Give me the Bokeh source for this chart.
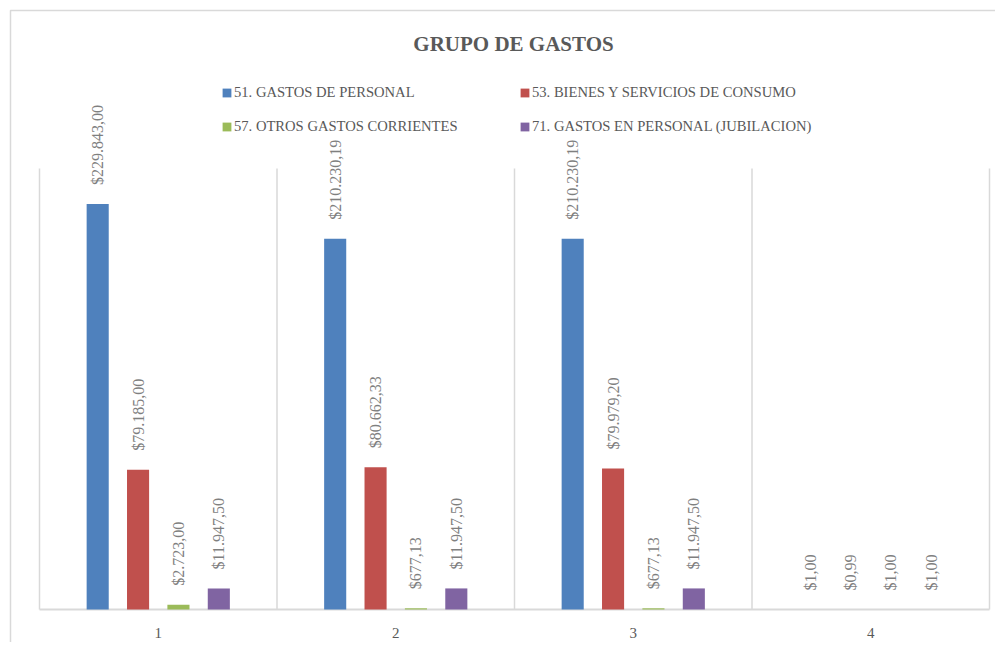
from bokeh.plotting import figure
from bokeh.models import (ColumnDataSource, Range1d, LabelSet, Label, Legend, LegendItem)
from bokeh.embed import file_html
from bokeh.resources import INLINE

# ---- data ----
categories = ["1", "2", "3", "4"]
series_names = [
    "51. GASTOS DE PERSONAL",
    "53. BIENES Y SERVICIOS DE CONSUMO",
    "57. OTROS GASTOS CORRIENTES",
    "71. GASTOS EN PERSONAL (JUBILACION)",
]
gastos_personal = [229843.00, 210230.19, 210230.19, 1.00]
bienes_servicios = [79185.00, 80662.33, 79979.20, 0.99]
otros_gastos = [2723.00, 677.13, 677.13, 1.00]
jubilacion = [11947.50, 11947.50, 11947.50, 1.00]
y_max = 250000
title_text = "GRUPO DE GASTOS"

# ---- style ----
colors = ["#4F81BD", "#C0504D", "#9BBB59", "#8064A2"]
FONT = "Liberation Serif"
GRID = "#D9D9D9"
W, H = 995, 642
PLOT_L, PLOT_R, PLOT_T, PLOT_B = 39, 989, 168, 609   # plot area in pixels

n = len(categories)
ppx = (PLOT_R - PLOT_L) / n          # pixels per category
ppy = (PLOT_B - PLOT_T) / y_max      # pixels per value unit


def px_x(px):
    return (px - PLOT_L) / ppx


def px_y(py):
    return (PLOT_B - py) / ppy


def fmt(v):
    s = f"{v:,.2f}"
    s = s.replace(",", "X").replace(".", ",").replace("X", ".")
    return "$" + s


series = [gastos_personal, bienes_servicios, otros_gastos, jubilacion]
offsets = [-0.255, -0.085, 0.085, 0.255]
bar_w = 0.093

p = figure(
    x_range=Range1d(px_x(0), px_x(W)),
    y_range=Range1d(px_y(H), px_y(0)),
    width=W, height=H,
    output_backend="svg", toolbar_location=None,
    min_border_left=0, min_border_right=0, min_border_top=0, min_border_bottom=0,
)
p.xaxis.visible = False
p.yaxis.visible = False
p.xgrid.grid_line_color = None
p.ygrid.grid_line_color = None
p.outline_line_color = None
p.background_fill_color = "white"
p.border_fill_color = "white"

# chart border (left + top)
p.line(x=[px_x(10), px_x(10), px_x(W)], y=[px_y(H), px_y(10), px_y(10)],
       line_color=GRID, line_width=1.5)

# category separators and baseline
bounds = list(range(n + 1))
p.segment(x0=bounds, x1=bounds, y0=[0] * (n + 1), y1=[y_max] * (n + 1),
          line_color=GRID, line_width=1.5)
p.segment(x0=[0], x1=[n], y0=[0], y1=[0], line_color=GRID, line_width=2)

centers = [i + 0.5 for i in range(n)]
cat_src = ColumnDataSource(dict(x=centers, y=[0] * n, t=categories))
p.add_layout(LabelSet(x="x", y="y", text="t", source=cat_src, text_align="center",
                      text_baseline="middle", y_offset=-23, text_font=FONT,
                      text_font_size="15px", text_color="#595959"))

renderers = []
for vals, off, c in zip(series, offsets, colors):
    xs = [ctr + off for ctr in centers]
    src = ColumnDataSource(dict(x=xs, top=vals, lbl=[fmt(v) for v in vals]))
    r = p.vbar(x="x", top="top", width=bar_w, source=src,
               fill_color=c, line_color=None)
    renderers.append(r)
    p.add_layout(LabelSet(x="x", y="top", text="lbl", source=src,
                          angle=90, angle_units="deg", text_align="left",
                          text_baseline="middle", y_offset=19, text_font=FONT,
                          text_font_size="16px", text_color="#7F7F7F"))

# title
p.add_layout(Label(x=(PLOT_L + PLOT_R) / 2 - 1, y=H - 43, x_units="screen", y_units="screen",
                   text=title_text, text_align="center", text_baseline="middle",
                   text_font=FONT, text_font_size="21px", text_font_style="bold",
                   text_color="#595959"))

# legend: two columns
legend_cols = [[0, 2], [1, 3]]
legend_x = [221, 519]
for col, lx in zip(legend_cols, legend_x):
    items = [LegendItem(label=series_names[i], renderers=[renderers[i]]) for i in col]
    leg = Legend(items=items, location=(lx, H - 136), orientation="vertical",
                 padding=0, margin=0, spacing=14, label_standoff=2,
                 glyph_width=11, glyph_height=11, label_height=20,
                 label_text_font=FONT, label_text_font_size="14.6px",
                 label_text_color="#595959",
                 border_line_color=None, background_fill_alpha=0)
    p.add_layout(leg, "center")

open("out.html", "w").write(file_html(p, INLINE))
